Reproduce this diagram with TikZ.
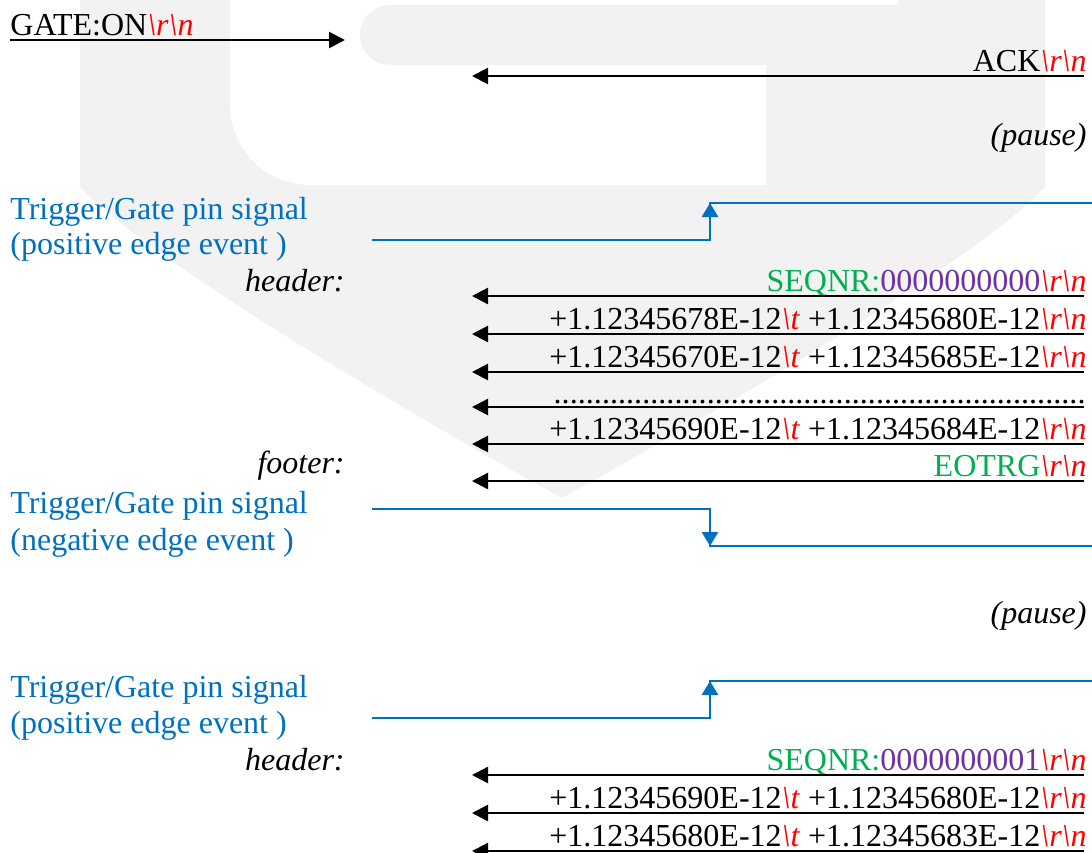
\documentclass[tikz,border=0pt]{standalone}
\usepackage{fontspec}
\setmainfont{Liberation Serif}
\usetikzlibrary{arrows.meta}

\definecolor{pinblue}{HTML}{0070C0}
\definecolor{seqgreen}{HTML}{00B050}
\definecolor{seqpurple}{HTML}{7030A0}
\definecolor{wmgray}{HTML}{F2F2F2}

\newcommand{\crlf}{\textcolor{red}{\textit{\textbackslash r\textbackslash n}}}
\newcommand{\tabch}{\textcolor{red}{\textit{\textbackslash t}}}

\begin{document}
\begin{tikzpicture}[x=0.5pt,y=-0.5pt,
    every node/.style={inner sep=0pt,font=\fontsize{16}{19}\selectfont},
    msg/.style={draw=black,line width=1.2pt,-{Triangle[length=8pt,width=8pt]}},
    pin/.style={draw=pinblue,line width=1.4pt},
    pinedge/.style={pin,-{Triangle[length=7pt,width=8pt]}},
    txtR/.style={anchor=base east},
    txtL/.style={anchor=base west},
    pinlbl/.style={anchor=base west,text=pinblue},
    note/.style={anchor=base east,font=\fontsize{16}{19}\selectfont\itshape}]
  \useasboundingbox (0,0) rectangle (1092,852);

  % logo in the background
  \fill[wmgray] (80,0) -- (1045,0) -- (1045,187)
    .. controls (970,267) and (670,438) .. (562,498)
    .. controls (453,438) and (155,267) .. (80,187) -- cycle;
  \fill[white] (230,-10) -- (230,105) arc[start angle=180,end angle=90,radius=80]
    -- (766,185) -- (766,-10) -- cycle;
  \fill[white] (766,-10) rectangle (898,5);
  \fill[wmgray] (390,5) -- (898,5) -- (898,65) -- (390,65)
    arc[start angle=90,end angle=270,radius=30] -- cycle;

  % gate on / ack
  \node[txtL] (gateon) at (10,35) {GATE:ON\crlf};
  \coordinate (hostGate) at (10,40);
  \coordinate (devGate) at (345,40);
  \draw[msg] (hostGate) -- (devGate);

  \node[txtR] (ack) at (1087,71) {ACK\crlf};
  \coordinate (devAck) at (1084,76);
  \coordinate (hostAck) at (472,76);
  \draw[msg] (devAck) -- (hostAck);

  \node[note] (pauseA) at (1087,145) {(pause)};

  % first trigger, positive edge
  \node[pinlbl] (pinA) at (10,219) {Trigger/Gate pin signal};
  \node[pinlbl] (pinAev) at (10,254) {(positive edge event )};
  \coordinate (pinAlo) at (372,240);
  \coordinate (pinAedge) at (710,240);
  \coordinate (pinAhi) at (710,203);
  \coordinate (pinAend) at (1092,203);
  \draw[pin] (pinAlo) -| (pinAhi) -- (pinAend);
  \draw[pinedge] (pinAedge) -- (pinAhi);

  \node[note] (headerA) at (345,291) {header:};
  \foreach \n/\y/\txt in {1/296/{\textcolor{seqgreen}{SEQNR:}\textcolor{seqpurple}{0000000000}\crlf},
      2/334/{+1.12345678E-12\tabch{} +1.12345680E-12\crlf},
      3/372/{+1.12345670E-12\tabch{} +1.12345685E-12\crlf},
      5/444/{+1.12345690E-12\tabch{} +1.12345684E-12\crlf},
      6/481/{\textcolor{seqgreen}{EOTRG}\crlf}} {
    \node[txtR] (rowA\n) at (1087,\y-5) {\txt};
    \coordinate (devA\n) at (1084,\y);
    \coordinate (hostA\n) at (472,\y);
    \draw[msg] (devA\n) -- (hostA\n);
  }
  \node[txtR] (rowA4) at (1086,403) {\hbox to 266pt{\xleaders\hbox{.}\hfill}};
  \coordinate (devA4) at (1084,407);
  \coordinate (hostA4) at (472,407);
  \draw[msg] (devA4) -- (hostA4);
  \node[note] (footerA) at (345,473) {footer:};

  % negative edge
  \node[pinlbl] (pinB) at (10,513) {Trigger/Gate pin signal};
  \node[pinlbl] (pinBev) at (10,550) {(negative edge event )};
  \coordinate (pinBhi) at (372,509);
  \coordinate (pinBedge) at (710,509);
  \coordinate (pinBlo) at (710,546);
  \coordinate (pinBend) at (1092,546);
  \draw[pin] (pinBhi) -| (pinBlo) -- (pinBend);
  \draw[pinedge] (pinBedge) -- (pinBlo);

  \node[note] (pauseB) at (1087,623) {(pause)};

  % second trigger, positive edge
  \node[pinlbl] (pinC) at (10,697) {Trigger/Gate pin signal};
  \node[pinlbl] (pinCev) at (10,733) {(positive edge event )};
  \coordinate (pinClo) at (372,718);
  \coordinate (pinCedge) at (710,718);
  \coordinate (pinChi) at (710,681);
  \coordinate (pinCend) at (1092,681);
  \draw[pin] (pinClo) -| (pinChi) -- (pinCend);
  \draw[pinedge] (pinCedge) -- (pinChi);

  \node[note] (headerC) at (345,770) {header:};
  \foreach \n/\y/\txt in {1/775/{\textcolor{seqgreen}{SEQNR:}\textcolor{seqpurple}{0000000001}\crlf},
      2/813/{+1.12345690E-12\tabch{} +1.12345680E-12\crlf},
      3/851/{+1.12345680E-12\tabch{} +1.12345683E-12\crlf}} {
    \node[txtR] (rowC\n) at (1087,\y-5) {\txt};
    \coordinate (devC\n) at (1084,\y);
    \coordinate (hostC\n) at (472,\y);
    \draw[msg] (devC\n) -- (hostC\n);
  }
\end{tikzpicture}
\end{document}
